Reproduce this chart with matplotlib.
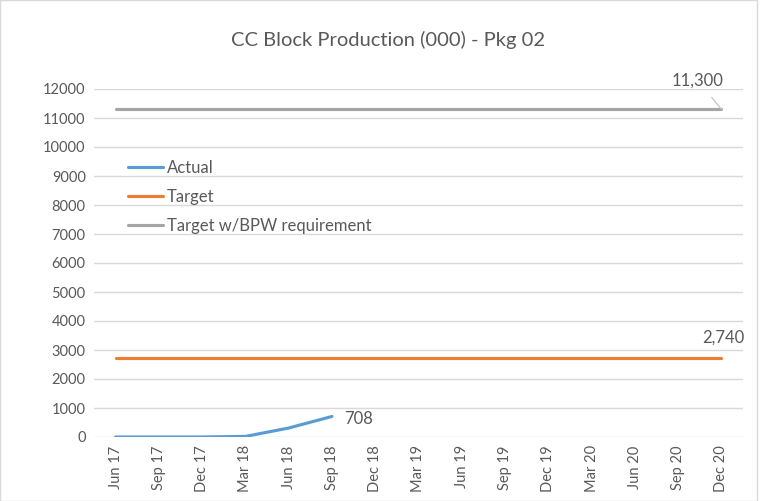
import matplotlib
matplotlib.use("Agg")
import matplotlib.pyplot as plt
from matplotlib.patches import Rectangle

categories = ["Jun 17", "Sep 17", "Dec 17", "Mar 18", "Jun 18", "Sep 18", "Dec 18",
              "Mar 19", "Jun 19", "Sep 19", "Dec 19", "Mar 20", "Jun 20", "Sep 20", "Dec 20"]
actual = [0, 0, 0, 20, 310, 708]
target = [2740, 2740, 2740, 2740, 2740, 2740, 2740, 2740, 2740, 2740, 2740, 2740, 2740, 2740, 2740]
target_bpw = [11300, 11300, 11300, 11300, 11300, 11300, 11300, 11300, 11300, 11300, 11300, 11300, 11300, 11300, 11300]
yticks = [0, 1000, 2000, 3000, 4000, 5000, 6000, 7000, 8000, 9000, 10000, 11000, 12000]

plt.rcParams['font.family'] = ['Lato', 'DejaVu Sans']
txt = '#595959'

fig = plt.figure(figsize=(7.61, 5.01), dpi=100)
ax = fig.add_axes([94/761, (501-437)/501, (743-94)/761, (437-89)/501])

x = list(range(len(categories)))
ax.plot(x[:len(actual)], actual, color='#5B9BD5', lw=2.25, label='Actual', solid_capstyle='round')
ax.plot(x, target, color='#ED7D31', lw=2.25, label='Target', solid_capstyle='round')
ax.plot(x, target_bpw, color='#A5A5A5', lw=2.25, label='Target w/BPW requirement', solid_capstyle='round')

ax.set_xlim(-0.5, len(categories) - 0.5)
ax.set_ylim(0, 12000)
ax.set_yticks(yticks)
ax.set_yticklabels([str(v) for v in yticks])
ax.set_xticks(x)
ax.set_xticklabels(categories, rotation=90)
ax.tick_params(axis='both', length=0, labelsize=10.5, colors=txt)
ax.tick_params(axis='x', pad=6)
ax.tick_params(axis='y', pad=6)
for s in ax.spines.values():
    s.set_visible(False)
ax.grid(axis='y', color='#D9D9D9', lw=1)
ax.set_axisbelow(True)

ax.annotate(f"{actual[-1]:,}", (x[len(actual)-1], actual[-1]), xytext=(9, -2),
            textcoords='offset points', fontsize=12, color=txt, va='center', ha='left')
ax.annotate(f"{target[-1]:,}", (x[-1], target[-1]), xytext=(-14, 14),
            textcoords='offset points', fontsize=12, color=txt, va='center', ha='left',
            annotation_clip=False)
ax.annotate(f"{target_bpw[-1]:,}", (x[-1], target_bpw[-1]), xytext=(-17, 21),
            textcoords='offset points', fontsize=12, color=txt, va='center', ha='center',
            annotation_clip=False,
            arrowprops=dict(arrowstyle='-', color='#BFBFBF', lw=0.8, shrinkA=6, shrinkB=0))

leg = ax.legend(loc='upper left', bbox_to_anchor=(0.03, 0.84), frameon=False,
                fontsize=12, handlelength=2.1, handletextpad=0.2, labelspacing=0.78,
                labelcolor=txt)

fig.text(388/761, 1 - 40/501, "CC Block Production (000) - Pkg 02", ha='center', va='center',
         fontsize=14.5, color=txt)
fig.patches.append(Rectangle((0, 0), 757/761, 1, transform=fig.transFigure, fill=False,
                             edgecolor='#D9D9D9', lw=1))
fig.savefig('out.png', dpi=100)
